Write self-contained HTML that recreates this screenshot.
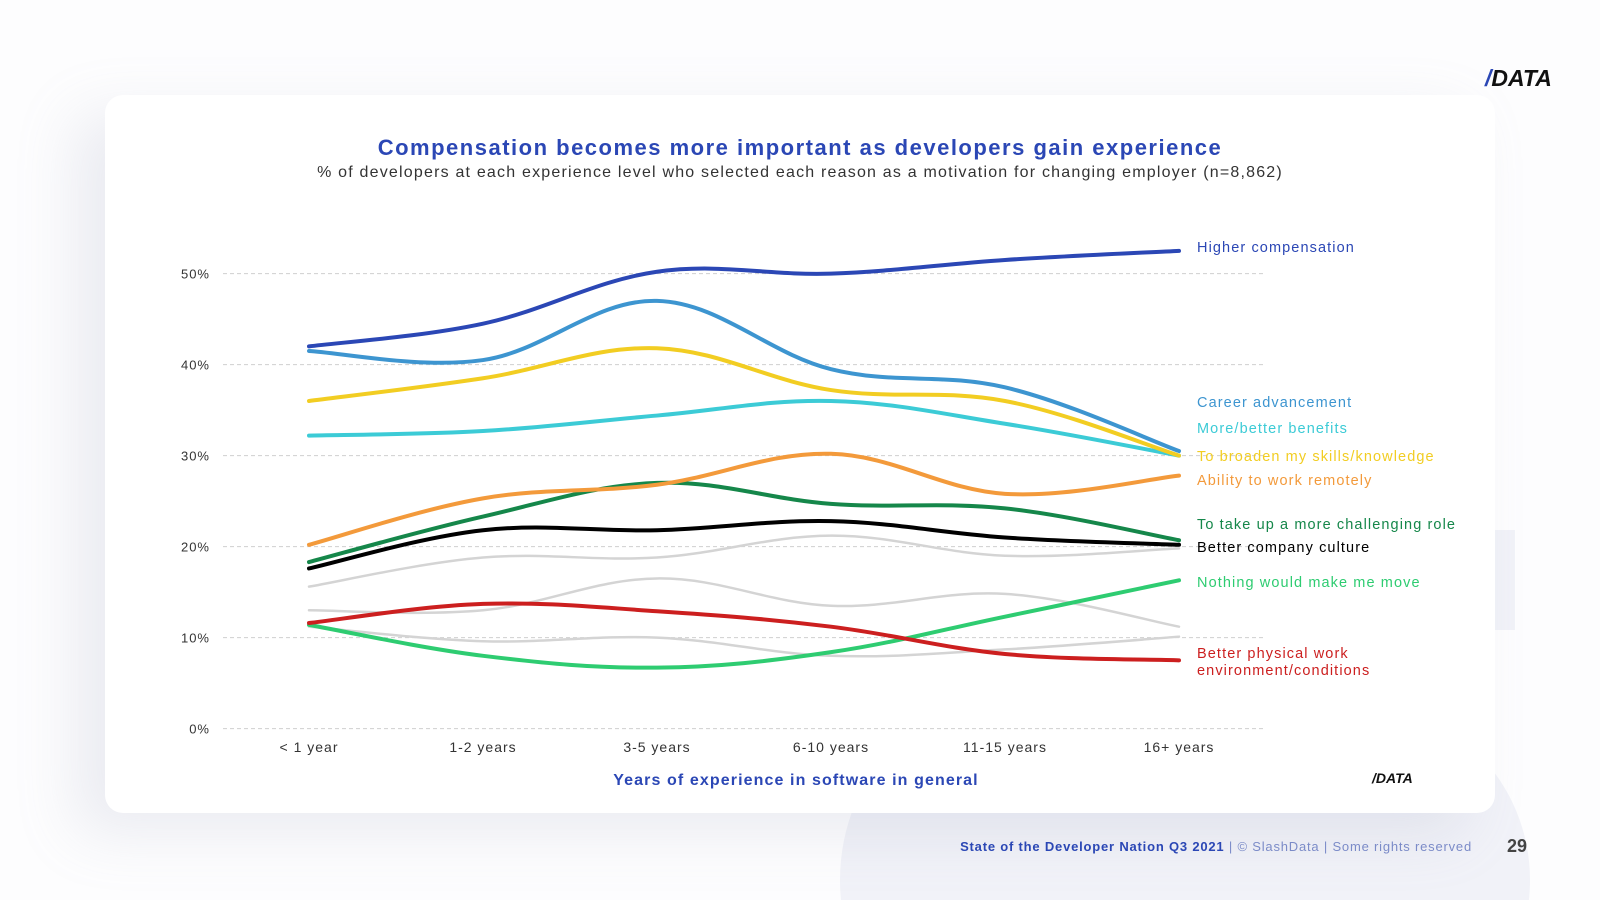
<!DOCTYPE html>
<html><head><meta charset="utf-8">
<style>
html,body{margin:0;padding:0;width:1600px;height:900px;overflow:hidden;background:#fdfdfe;font-family:"Liberation Sans",sans-serif;}
#wrap{position:relative;width:1600px;height:900px;overflow:hidden;}
#card{position:absolute;left:105px;top:95px;width:1390px;height:718px;background:#fff;border-radius:18px;box-shadow:-30px 20px 60px rgba(150,155,185,0.18);}
svg{position:absolute;left:0;top:0;overflow:hidden;}
</style></head><body><div id="wrap">
<svg width="1600" height="900">
<circle cx="1040" cy="880" r="200" fill="#f1f2f8"/>
<circle cx="1350" cy="880" r="180" fill="#f1f2f8"/>
<rect x="1490" y="530" width="25" height="100" fill="#f1f2f8"/>
</svg>
<div id="card"></div>
<svg id="chart" width="1600" height="900">
<text x="800" y="155" text-anchor="middle" font-size="22" font-weight="bold" fill="#2b47b5" letter-spacing="1.5">Compensation becomes more important as developers gain experience</text>
<text x="800" y="177" text-anchor="middle" font-size="16" fill="#333" letter-spacing="1.2">% of developers at each experience level who selected each reason as a motivation for changing employer (n=8,862)</text>
<g id="grid"></g><g id="lines"></g><g id="labels"></g>
<text x="796" y="785" text-anchor="middle" font-size="16" font-weight="bold" fill="#2b47b5" letter-spacing="1.1">Years of experience in software in general</text>
<text x="1372" y="783" font-size="14" font-weight="bold" font-style="italic" fill="#111">/DATA</text>
<text x="1485" y="86" font-size="23" font-weight="bold" font-style="italic" fill="#111"><tspan fill="#2b47b5">/</tspan>DATA</text>
<text x="1472" y="851" text-anchor="end" font-size="13" fill="#7b8bc8" letter-spacing="0.8"><tspan font-weight="bold" fill="#2b47b5">State of the Developer Nation Q3 2021</tspan> | © SlashData | Some rights reserved</text>
<text x="1507" y="852" font-size="18" font-weight="bold" fill="#444">29</text>
</svg>
<script>
const categories=["< 1 year","1-2 years","3-5 years","6-10 years","11-15 years","16+ years"];
const yTicks=[0,10,20,30,40,50];
const seriesNames=["Gray A","Gray B","Gray C","Nothing would make me move","Better physical work","Better company culture","To take up a more challenging role","Ability to work remotely","More/better benefits","To broaden my skills/knowledge","Career advancement","Higher compensation"];
const seriesColors=["#d4d4d4","#d4d4d4","#d4d4d4","#2ecc71","#cc1f1f","#000000","#15874a","#f39a3b","#3ccbd6","#f2cd22","#3d95d0","#2b47b5"];
const grayA=[15.6,18.8,18.8,21.2,19,19.8];
const grayB=[13,13,16.5,13.5,14.8,11.2];
const grayC=[11.2,9.6,10,8,8.7,10.1];
const nothing=[11.4,8,6.7,8.4,12.3,16.3];
const physical=[11.6,13.7,12.9,11.2,8.2,7.5];
const culture=[17.6,21.8,21.8,22.8,21,20.2];
const challenging=[18.3,23.3,27,24.7,24.2,20.7];
const remote=[20.2,25.3,26.8,30.2,25.8,27.8];
const benefits=[32.2,32.7,34.4,36,33.5,30];
const broaden=[36,38.5,41.8,37.2,36,30];
const career=[41.5,40.5,47,39.5,37.5,30.5];
const compensation=[42,44.5,50.2,50,51.5,52.5];
const seriesValues=[grayA,grayB,grayC,nothing,physical,culture,challenging,remote,benefits,broaden,career,compensation];
const legendLabels=[["Higher compensation"],["Career advancement"],["More/better benefits"],["To broaden my skills/knowledge"],["Ability to work remotely"],["To take up a more challenging role"],["Better company culture"],["Nothing would make me move"],["Better physical work","environment/conditions"]];
const legendColors=["#2b47b5","#3d95d0","#3ccbd6","#f2cd22","#f39a3b","#15874a","#000000","#2ecc71","#cc1f1f"];
const legendY=[252,407,433,461,485,529,552,587,658];

const NS="http://www.w3.org/2000/svg";
const x0=309,x1=1179,yBase=728.6,pxPer=9.1;
function xs(i){return x0+i*(x1-x0)/(categories.length-1);}
function ys(v){return yBase-v*pxPer;}
function mk(t,a,p){const e=document.createElementNS(NS,t);for(const k in a)e.setAttribute(k,a[k]);p.appendChild(e);return e;}
const grid=document.getElementById('grid'),lines=document.getElementById('lines'),labels=document.getElementById('labels');
yTicks.forEach(t=>{
 const l=mk('line',{x1:223,x2:1265,y1:ys(t),y2:ys(t),stroke:'#cfcfcf','stroke-dasharray':'4 3','stroke-width':1},grid);
 
 
 const tx=mk('text',{x:210,y:ys(t)+5,'text-anchor':'end','font-size':13,fill:'#333','letter-spacing':1},grid);
 tx.textContent=t+'%';
 
 
});
categories.forEach((c,i)=>{
 const tx=mk('text',{x:xs(i),y:752,'text-anchor':'middle','font-size':14,fill:'#333','letter-spacing':1},grid);
 tx.textContent=c;
 
 
});
function pathFor(vals){
 const p=vals.map((v,i)=>[xs(i),ys(v)]);
 let d='M'+p[0][0]+','+p[0][1];
 for(let i=0;i<p.length-1;i++){
  const a=p[Math.max(i-1,0)],b=p[i],c=p[i+1],e=p[Math.min(i+2,p.length-1)];
  const k=0.18;
  const c1=[b[0]+(c[0]-a[0])*k,b[1]+(c[1]-a[1])*k],c2=[c[0]-(e[0]-b[0])*k,c[1]-(e[1]-b[1])*k];
  d+=' C'+c1+' '+c2+' '+c;
 }
 return d;
}
seriesValues.forEach((vals,si)=>{
 const gray=si<3;
 const pth=mk('path',{d:pathFor(vals),fill:'none',stroke:seriesColors[si],'stroke-width':gray?2.5:4,'stroke-linecap':'round'},lines);
 
 
});
legendLabels.forEach((ls,i)=>{
 const tx=mk('text',{x:1197,y:legendY[i],'font-size':14.5,fill:legendColors[i],'letter-spacing':'1.1'},labels);
 ls.forEach((s,j)=>{const t=mk('tspan',{x:1197,dy:j?17:0},tx);t.textContent=s;});
 
 
});
</script>
</div></body></html>
